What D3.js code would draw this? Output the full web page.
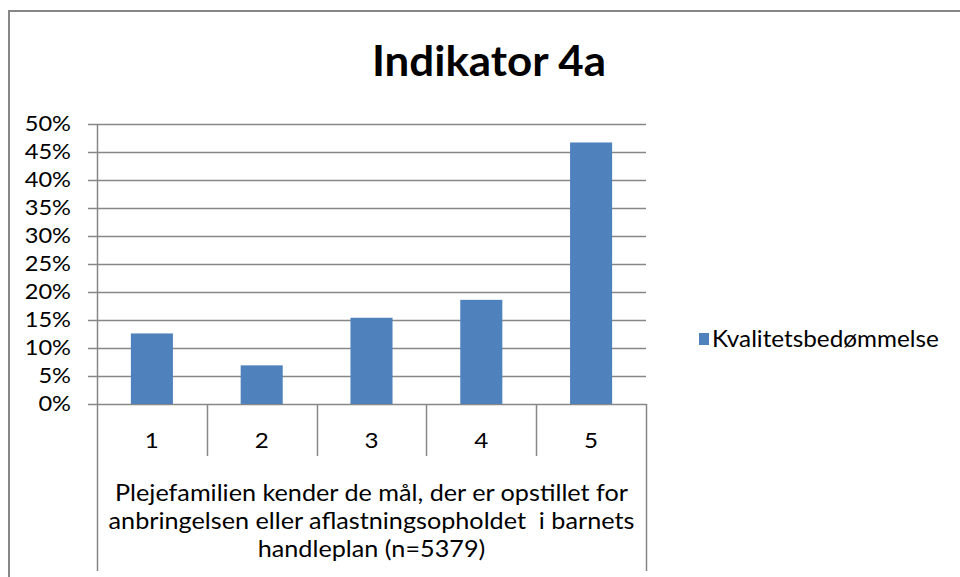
<!DOCTYPE html>
<html>
<head>
<meta charset="utf-8">
<script src="https://cdn.jsdelivr.net/npm/d3@7"></script>
<style>
  html, body { margin: 0; padding: 0; background: #fff; }
  svg { display: block; }
  text { font-family: Lato, "Open Sans", sans-serif; fill: #000; }
</style>
</head>
<body>
<svg id="chart" width="960" height="577"></svg>
<script>
const title = "Indikator 4a";
const categories = ["1", "2", "3", "4", "5"];
const values = [0.126, 0.069, 0.154, 0.186, 0.467];
const seriesName = "Kvalitetsbedømmelse";
const yTicks = [0, 0.05, 0.10, 0.15, 0.20, 0.25, 0.30, 0.35, 0.40, 0.45, 0.50];
const groupLabelLines = [
  "Plejefamilien kender de mål, der er opstillet for",
  "anbringelsen eller aflastningsopholdet  i barnets",
  "handleplan (n=5379)"
];

const svg = d3.select("#chart");
const gridColor = "#878787";
const barColor = "#4f81bd";

// horizontally widen text to mimic the wider original rendering
function stretch(sel, factor) {
  sel.each(function () {
    const w = this.getComputedTextLength();
    d3.select(this).attr("textLength", w * factor).attr("lengthAdjust", "spacingAndGlyphs");
  });
}

// outer chart frame
svg.append("rect")
  .attr("x", 9).attr("y", 11)
  .attr("width", 1000).attr("height", 1000)
  .attr("fill", "none").attr("stroke", gridColor).attr("stroke-width", 2);

const plotL = 97, plotR = 646, plotT = 124, plotB = 404;
const x = d3.scaleBand().domain(categories).range([plotL, plotR]).padding(0);
const y = d3.scaleLinear().domain([0, 0.5]).range([plotB, plotT]);

// title
svg.append("text")
  .attr("x", 489).attr("y", 76)
  .attr("text-anchor", "middle")
  .attr("font-size", 42).attr("font-weight", "bold")
  .text(title)
  .call(stretch, 1.045);

// gridlines
svg.append("g").selectAll("line").data(yTicks).join("line")
  .attr("x1", plotL - 9).attr("x2", plotR)
  .attr("y1", d => Math.round(y(d)) + 0.5).attr("y2", d => Math.round(y(d)) + 0.5)
  .attr("stroke", gridColor).attr("stroke-width", 1.5);

// y tick labels
svg.append("g").selectAll("text").data(yTicks).join("text")
  .attr("x", 71).attr("y", d => y(d) + 7)
  .attr("text-anchor", "end")
  .attr("font-size", 20.5)
  .text(d => d3.format(".0%")(d))
  .call(stretch, 1.15);

// bars
const barFrac = 0.383;
svg.append("g").selectAll("rect").data(values).join("rect")
  .attr("x", (d, i) => x(categories[i]) + x.bandwidth() * (1 - barFrac) / 2)
  .attr("width", x.bandwidth() * barFrac)
  .attr("y", d => y(d))
  .attr("height", d => y(0) - y(d))
  .attr("fill", barColor);

// y axis line (extends as left border of multi-level category axis)
svg.append("line")
  .attr("x1", plotL + 0.5).attr("x2", plotL + 0.5)
  .attr("y1", plotT).attr("y2", 571)
  .attr("stroke", gridColor).attr("stroke-width", 1.5);
svg.append("line")
  .attr("x1", plotR + 0.5).attr("x2", plotR + 0.5)
  .attr("y1", plotB).attr("y2", 571)
  .attr("stroke", gridColor).attr("stroke-width", 1.5);

// internal category dividers
svg.append("g").selectAll("line").data(categories.slice(1)).join("line")
  .attr("x1", d => Math.round(x(d)) + 0.5).attr("x2", d => Math.round(x(d)) + 0.5)
  .attr("y1", plotB).attr("y2", 456)
  .attr("stroke", gridColor).attr("stroke-width", 1.5);

// category labels
svg.append("g").selectAll("text").data(categories).join("text")
  .attr("x", d => x(d) + x.bandwidth() / 2)
  .attr("y", 448)
  .attr("text-anchor", "middle")
  .attr("font-size", 22)
  .text(d => d)
  .call(stretch, 1.1);

// group label
svg.append("g").selectAll("text").data(groupLabelLines).join("text")
  .attr("x", (plotL + plotR) / 2)
  .attr("y", (d, i) => 501 + i * 28)
  .attr("text-anchor", "middle")
  .attr("font-size", 22.5)
  .style("white-space", "pre")
  .text(d => d)
  .call(stretch, 1.12);

// legend
svg.append("rect")
  .attr("x", 699).attr("y", 333).attr("width", 10).attr("height", 12)
  .attr("fill", barColor);
svg.append("text")
  .attr("x", 712).attr("y", 347)
  .attr("font-size", 23)
  .text(seriesName)
  .call(stretch, 1.055);
</script>
</body>
</html>
